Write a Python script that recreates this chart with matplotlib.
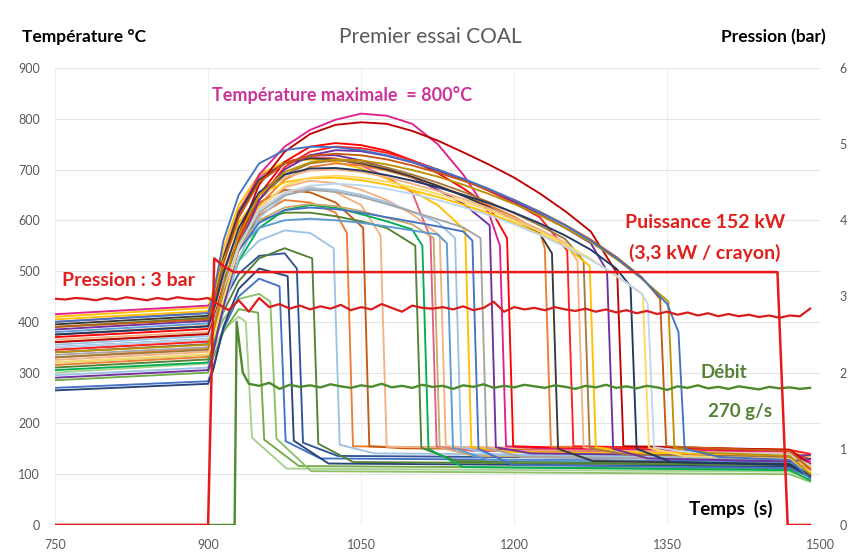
import numpy as np
import matplotlib
matplotlib.use("Agg")
import matplotlib.pyplot as plt

plt.rcParams['font.family'] = ['Lato', 'DejaVu Sans']

# ---- thermocouple traces (°C) ----
# temperatures read at these times during the heated phase
hot_times = [905, 915, 930, 950, 975, 1000, 1025, 1050, 1075, 1100,
             1125, 1150, 1175, 1200, 1225, 1250, 1275, 1300, 1325, 1350]

temp_750 = [300, 285, 320, 270, 265, 340, 310, 355, 330, 375, 345, 390, 305,
            400, 360, 325, 380, 295, 410, 350, 335, 385, 415, 370, 315, 395,
            345, 365, 330, 405, 290, 360, 375, 320, 350, 390, 340, 400]
temp_900 = [318, 300, 335, 283, 278, 356, 326, 372, 348, 392, 362, 408, 320,
            418, 376, 341, 397, 310, 428, 366, 350, 402, 432, 386, 331, 412,
            361, 380, 345, 421, 305, 376, 391, 336, 366, 405, 355, 417]

hot_temps = [
    [345, 385, 410],
    [330, 380, 425],
    [360, 405, 445, 455],
    [310, 385, 450, 485],
    [305, 390, 465, 505],
    [385, 440, 495, 530, 535],
    [355, 420, 480, 525, 545],
    [400, 460, 520, 560, 580, 575],
    [380, 460, 545, 610, 640, 635, 615],
    [425, 500, 580, 635, 660, 655, 635],
    [395, 470, 555, 620, 655, 665, 655, 630],
    [440, 500, 560, 600, 615, 615, 608, 598, 585],
    [350, 430, 520, 585, 620, 630, 625, 612, 598, 582],
    [450, 530, 620, 685, 715, 725, 722, 708, 685, 655],
    [405, 470, 545, 600, 625, 632, 628, 618, 605, 592],
    [375, 455, 550, 625, 665, 678, 673, 660, 640, 612],
    [425, 485, 545, 585, 600, 603, 600, 595, 588, 580, 572],
    [340, 425, 525, 605, 648, 663, 660, 650, 636, 617, 596],
    [460, 545, 630, 690, 715, 720, 715, 702, 682, 658, 630],
    [395, 465, 540, 595, 620, 625, 622, 615, 606, 597, 588, 578],
    [380, 455, 545, 615, 650, 660, 656, 646, 632, 617, 602, 586],
    [435, 520, 610, 675, 712, 728, 728, 718, 703, 684, 660, 633],
    [440, 520, 610, 690, 745, 778, 798, 810, 806, 790, 750, 690, 615],
    [405, 470, 560, 650, 715, 745, 752, 748, 737, 718, 693, 663, 628],
    [365, 445, 545, 630, 680, 705, 712, 708, 698, 684, 668, 650, 630, 607, 578],
    [445, 525, 615, 680, 712, 722, 720, 712, 700, 686, 668, 648, 626, 602, 574],
    [390, 455, 545, 640, 705, 735, 745, 742, 733, 718, 700, 680, 658, 634, 606],
    [410, 490, 580, 650, 685, 698, 700, 695, 685, 672, 658, 642, 624, 604, 582, 556],
    [375, 455, 555, 640, 690, 712, 718, 714, 704, 690, 674, 656, 636, 614, 590, 563],
    [450, 520, 595, 650, 675, 683, 684, 679, 670, 659, 646, 631, 614, 595, 573, 549],
    [340, 430, 545, 640, 700, 728, 738, 736, 727, 714, 698, 680, 660, 637, 612, 585, 555],
    [400, 470, 570, 670, 735, 770, 788, 793, 790, 776, 757, 734, 710, 684, 653, 618, 578],
    [420, 495, 585, 655, 690, 702, 703, 698, 689, 678, 665, 650, 634, 615, 594, 570, 542, 505],
    [365, 445, 545, 625, 668, 684, 688, 684, 676, 665, 652, 637, 620, 600, 578, 553, 524, 490],
    [395, 465, 550, 620, 655, 668, 672, 669, 662, 652, 640, 626, 610, 592, 571, 548, 522, 492, 455],
    [435, 515, 605, 675, 712, 727, 731, 728, 720, 708, 694, 678, 660, 640, 617, 591, 562, 528, 488],
    [385, 470, 570, 650, 695, 714, 720, 718, 710, 699, 686, 670, 652, 632, 610, 585, 557, 524, 485],
    [450, 560, 650, 712, 738, 745, 744, 738, 728, 715, 700, 682, 662, 640, 616, 590, 560, 526, 486, 435],
]

quench_time = [937, 949, 961, 970, 978, 987, 1002, 1023, 1036, 1052, 1069, 1103,
               1110, 1118, 1121, 1127, 1134, 1142, 1152, 1159, 1167, 1176, 1186,
               1193, 1230, 1237, 1252, 1262, 1268, 1274, 1291, 1301, 1314, 1326,
               1331, 1343, 1351, 1361]
quench_top = [400, 418, 440, 470, 490, 505, 525, 545, 575, 585, 570, 550, 550,
              565, 565, 570, 555, 565, 580, 560, 565, 590, 550, 565, 545, 535,
              540, 520, 520, 510, 500, 495, 470, 455, 435, 445, 440, 380]
quench_bottom = [172, 168, 170, 165, 166, 162, 160, 158, 155, 155, 154, 152, 150,
                 154, 153, 155, 152, 153, 154, 150, 152, 153, 155, 155, 154, 150,
                 155, 153, 152, 153, 150, 155, 150, 152, 153, 155, 152, 150]
flat_temp = [105, 110, 100, 125, 115, 130, 118, 135, 148, 145, 147, 120, 108,
             140, 130, 146, 122, 132, 138, 112, 128, 135, 145, 147, 148, 120,
             148, 140, 133, 137, 125, 148, 118, 130, 138, 146, 136, 128]
end_temp = [90, 95, 85, 110, 100, 120, 98, 115, 112, 130, 108, 100, 88, 120,
            105, 135, 100, 115, 110, 95, 105, 138, 125, 118, 108, 98, 140, 112,
            102, 115, 130, 120, 95, 105, 118, 110, 100, 92]

trace_colors = ['#A9D18E', '#70AD47', '#8CC168', '#4472C4', '#264478', '#2F5597',
                '#548235', '#9DC3E6', '#ED7D31', '#C55A11', '#F4B183', '#548235',
                '#00B050', '#E06080', '#C9A96E', '#F4B183', '#5B9BD5', '#9DC3E6',
                '#FFC000', '#4472C4', '#A5A5A5', '#7030A0', '#E0218A', '#FF0000',
                '#ED7D31', '#3B3838', '#FF2020', '#F4B183', '#A47A3C', '#FFC000',
                '#7030A0', '#C00000', '#203864', '#FFD966', '#BDD7EE', '#C55A11',
                '#BF9000', '#4472C4']

# ---- pressure (bar), sampled every 10 s from 750 to 1490 ----
pressure = [2.97, 2.96, 2.98, 2.97, 2.95, 2.98, 2.96, 2.99, 2.97, 2.95, 2.98, 2.96,
            2.99, 2.97, 2.96,
            2.98, 2.90, 2.82, 2.95, 2.80, 2.98, 2.86, 2.90, 2.84, 2.88, 2.83, 2.87,
            2.84, 2.89, 2.82, 2.86, 2.83, 2.90, 2.85, 2.80, 2.88, 2.85, 2.84, 2.86,
            2.83, 2.87, 2.82, 2.85, 2.93, 2.80, 2.86, 2.83, 2.85, 2.82, 2.86, 2.83,
            2.81, 2.84, 2.80, 2.83, 2.79, 2.82, 2.78, 2.81, 2.77, 2.80, 2.76, 2.79,
            2.75, 2.78, 2.74, 2.77, 2.74, 2.76, 2.73, 2.75, 2.72, 2.75, 2.74, 2.84]
pressure_time = np.arange(750, 1491, 10)

# ---- flow rate (g/s) ----
debit_start_time = [750, 926, 928, 934, 940]
debit_start = [0, 0, 400, 300, 278]
debit = [274, 280, 268, 276, 272, 275, 271, 277, 273, 270, 275, 272, 278, 271,
         274, 270, 276, 272, 274, 268, 275, 272, 277, 270, 274, 271, 276, 273,
         270, 275, 272, 268, 274, 271, 276, 270, 273, 269, 274, 271, 266, 273,
         270, 275, 269, 272, 268, 273, 270, 267, 272, 269, 271, 268, 270]
debit_time = np.arange(950, 1491, 10)

# ---- power (kW per rod) ----
power_time = [750, 900, 906, 915, 925, 1458, 1468, 1490]
power = [0, 0, 3.5, 3.4, 3.32, 3.32, 0, 0]

fig = plt.figure(figsize=(8.56, 5.56), dpi=100)
ax = fig.add_axes([0.0643, 0.0558, 0.894, 0.822])
ax2 = ax.twinx()

for i in range(len(quench_time)):
    prof = hot_temps[i]
    tq = quench_time[i]
    ts = [750, 900] + hot_times[:len(prof)] + [tq, tq + 6, tq + 40, 1470, 1490]
    Ts = ([temp_750[i], temp_900[i]] + prof +
          [quench_top[i], quench_bottom[i], flat_temp[i] + 6, flat_temp[i], end_temp[i]])
    ax.plot(ts, Ts, color=trace_colors[i], lw=1.35, zorder=2, solid_joinstyle='round')

ax.plot(debit_start_time + list(debit_time), debit_start + debit,
        color='#4E8A2E', lw=1.7, zorder=5)

ax2.plot(power_time, power, color='#E8191A', lw=1.8, zorder=6)
ax2.plot(pressure_time, pressure, color='#D91C1C', lw=1.6, zorder=6)

ax.set_xlim(750, 1500)
ax.set_ylim(0, 900)
ax2.set_ylim(0, 6)
ax.set_xticks(range(750, 1501, 150))
ax.set_yticks(range(0, 901, 100))
ax2.set_yticks(range(0, 7))

for a in (ax, ax2):
    for s in a.spines.values():
        s.set_visible(False)
    a.tick_params(length=0, labelsize=9, colors='#595959')
ax.tick_params(axis='y', pad=11)
ax2.tick_params(axis='y', pad=14)
ax.tick_params(axis='x', pad=10)
ax.grid(axis='y', color='#E4E4E4', lw=0.8)
ax.grid(axis='x', color='#F0F0F0', lw=0.8)
ax.set_axisbelow(True)

W, H = 856, 556
def ft(x, y, s, **kw):
    fig.text(x / W, 1 - y / H, s, va='center', **kw)

ft(22, 37, 'Température °C', ha='left', fontsize=12.5, fontweight='bold', color='black')
ft(430, 37, 'Premier essai COAL', ha='center', fontsize=15, color='#595959')
ft(826, 37, 'Pression (bar)', ha='right', fontsize=12.5, fontweight='bold', color='black')
ft(212, 95, 'Température maximale  = 800°C', ha='left', fontsize=13,
   fontweight='bold', color='#CC3399')
ft(705, 222, 'Puissance 152 kW', ha='center', fontsize=14, fontweight='bold', color='#E0201B')
ft(705, 253, '(3,3 kW / crayon)', ha='center', fontsize=14, fontweight='bold', color='#E0201B')
ft(62, 280, 'Pression : 3 bar', ha='left', fontsize=14, fontweight='bold', color='#E0201B')
ft(724, 373, 'Débit', ha='center', fontsize=13.5, fontweight='bold', color='#548235')
ft(740, 411, '270 g/s', ha='center', fontsize=13.5, fontweight='bold', color='#548235')
ft(731, 509, 'Temps  (s)', ha='center', fontsize=13.5, fontweight='bold', color='black')

fig.savefig('out.png', dpi=100)
